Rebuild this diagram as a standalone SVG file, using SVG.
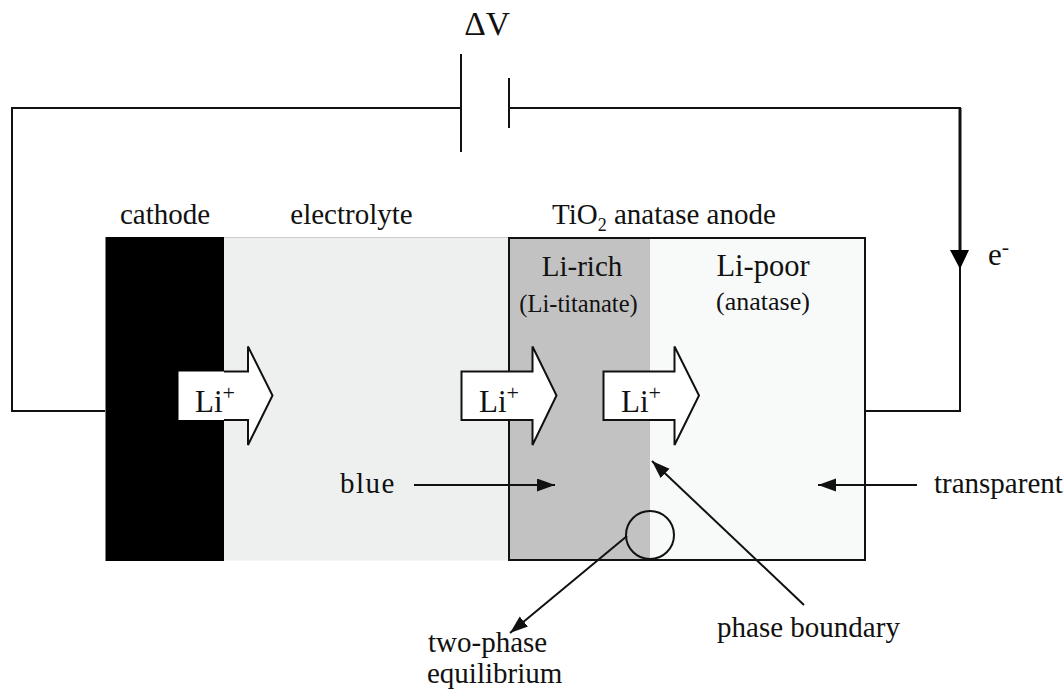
<svg xmlns="http://www.w3.org/2000/svg" width="1064" height="690" viewBox="0 0 1064 690">
<style>
text{font-family:"Liberation Serif","Times New Roman",serif;font-size:29px;fill:#111}
.s{font-size:24.500px}
.sm{font-size:18px}
.li{font-size:31px}
.sup{font-size:22px}
.w{fill:none;stroke:#111;stroke-width:2}
.a{fill:#fff;stroke:#111;stroke-width:2}
</style>
<defs>
<marker id="ah" markerUnits="userSpaceOnUse" markerWidth="20" markerHeight="14" refX="18" refY="6.5" orient="auto"><path d="M0 0L18 6.500L0 13z" fill="#111"/></marker>
</defs>
<rect width="1064" height="690" fill="#fff"/>
<g id="electrolyte"><rect x="224" y="237.500" width="285" height="323" fill="#eef0f0"/><line x1="224" y1="237.500" x2="509" y2="237.500" stroke="#ccc"/><text x="351.500" y="224" text-anchor="middle">electrolyte</text></g>
<g id="cathode"><rect x="105.500" y="237" width="118.500" height="324" fill="#000"/><text x="165" y="224" text-anchor="middle">cathode</text></g>
<g id="anode">
<rect x="509" y="238" width="141" height="322" fill="#c2c2c2"/>
<rect x="650" y="238" width="215" height="322" fill="#f8fafa"/>
<rect x="509" y="238" width="356" height="322" fill="none" stroke="#111" stroke-width="2"/>
<text x="552" y="224">TiO<tspan class="sm" dy="7">2</tspan><tspan dy="-7"> anatase anode</tspan></text>
<text x="582" y="276" text-anchor="middle">Li-rich</text>
<text class="s" x="578.500" y="312" text-anchor="middle">(Li-titanate)</text>
<text x="763" y="276" text-anchor="middle" style="font-size:30.500px">Li-poor</text>
<text x="763" y="310" text-anchor="middle" style="font-size:26px">(anatase)</text>
</g>
<g id="connectors">
<path class="w" d="M105 411H12V108H461M461 54V152M509 78V128M509 108H960V411H866"/>
<line x1="960" y1="108" x2="960" y2="250" stroke="#111" stroke-width="3"/>
<path d="M950 250H969L960 269z" fill="#000"/>
<line class="w" x1="414" y1="485" x2="555" y2="485" marker-end="url(#ah)"/>
<line class="w" x1="917" y1="485" x2="818" y2="485" marker-end="url(#ah)"/>
<line class="w" x1="804" y1="605" x2="652" y2="461" marker-end="url(#ah)"/>
<line class="w" x1="627" y1="536" x2="510" y2="633" marker-end="url(#ah)"/>
</g>
<g id="boundary-circle"><circle cx="650" cy="535" r="24" fill="none" stroke="#111" stroke-width="2"/></g>
<g id="li-arrow-1"><path class="a" d="M178.500 371.500H248V346.500L272.500 395.500L248 445V420H178.500z" style="stroke:none"/><path class="w" d="M224 371.500H248V346.500L272.500 395.500L248 445V420H224"/><text class="li" x="195" y="412">Li<tspan class="sup" dy="-12">+</tspan></text></g>
<g id="li-arrow-2"><path class="a" d="M461.500 371.500H532.500V346.500L556.500 395.500L532.500 445V420H461.500z"/><text class="li" x="479" y="412">Li<tspan class="sup" dy="-12">+</tspan></text></g>
<g id="li-arrow-3"><path class="a" d="M603.500 371.500H674.500V346.500L699 395.500L674.500 445V420H603.500z"/><text class="li" x="621" y="412">Li<tspan class="sup" dy="-12">+</tspan></text></g>
<g id="labels">
<text x="487" y="35" text-anchor="middle" style="font-size:33.500px">ΔV</text>
<text class="li" x="988" y="265">e<tspan class="sup" dy="-11">-</tspan></text>
<text x="340" y="493" style="letter-spacing:1.500px">blue</text>
<text x="934" y="493">transparent</text>
<text x="808.500" y="637" text-anchor="middle">phase boundary</text>
<text x="428" y="652">two-phase</text>
<text x="427" y="683">equilibrium</text>
</g>
</svg>
